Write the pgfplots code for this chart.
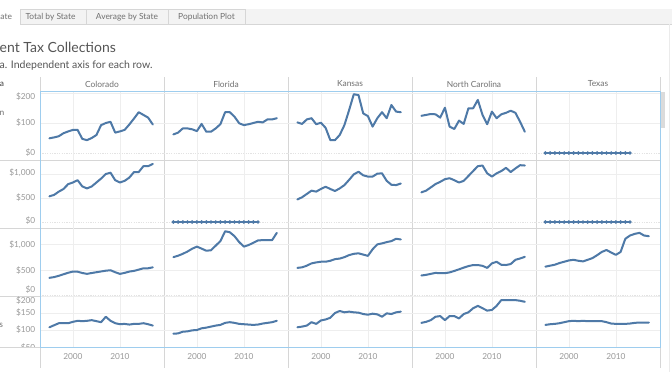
\documentclass[border=0pt]{standalone}
\usepackage{fontspec}
\setmainfont{Lato}
\usepackage{pgfplots}
\usepackage{pgfplotstable}
\pgfplotsset{compat=1.18}
\definecolor{tblue}{HTML}{4E79A7}
\definecolor{frameblue}{HTML}{9ECDEE}
\definecolor{sepgray}{HTML}{D6D6D6}
\definecolor{gridgray}{HTML}{EEEEEE}
\definecolor{ticktext}{HTML}{9A9A9A}
\definecolor{headtext}{HTML}{707070}
\definecolor{titletext}{HTML}{555555}
\definecolor{tabbg}{HTML}{F3F3F3}

\pgfplotstableread{
year CO FL KS NC
1995 49 62 102 124
1996 52 68 97 127
1997 56 82 112 130
1998 66 82 116 129
1999 72 79 96 118
2000 77 73 101 151
2001 77 97 84 88
2002 47 71 43 80
2003 43 71 43 108
2004 50 82 60 97
2005 60 96 93 149
2006 93 136 143 149
2007 100 136 196 177
2008 104 121 193 127
2009 68 99 132 96
2010 72 93 123 138
2011 77 96 88 116
2012 95 100 116 129
2013 115 104 136 134
2014 136 102 116 141
2015 127 112 160 134
2016 118 112 138 104
2017 95 116 136 71
}\rowone

\pgfplotstableread{
year CO KS NC
1995 535 470 618
1996 565 516 653
1997 633 584 721
1998 688 653 790
1999 790 633 837
2000 823 688 892
2001 871 735 912
2002 741 688 871
2003 700 646 823
2004 741 700 857
2005 823 769 959
2006 905 878 1061
2007 1000 993 1163
2008 1027 1047 1177
2009 871 973 1014
2010 823 946 946
2011 857 946 1014
2012 925 1007 1061
2013 1041 1014 1129
2014 1041 857 1041
2015 1163 776 1116
2016 1163 769 1184
2017 1210 802 1177
}\rowtwo

\pgfplotstableread{
year CO FL KS NC TX
1995 345 750 540 391 564
1996 360 778 551 404 583
1997 385 815 583 423 602
1998 415 860 628 442 635
1999 445 915 647 436 660
2000 468 956 660 436 686
2001 465 917 660 452 698
2002 440 875 679 480 679
2003 423 885 711 512 667
2004 440 975 722 545 698
2005 455 1064 750 575 731
2006 470 1256 790 595 788
2007 485 1237 815 596 852
2008 494 1160 825 580 890
2009 455 1044 800 540 840
2010 423 956 775 628 795
2011 442 987 904 660 852
2012 468 1030 1000 600 1109
2013 481 1077 1019 596 1173
2014 506 1083 1044 615 1205
2015 532 1083 1064 698 1225
2016 532 1083 1109 724 1173
2017 551 1225 1096 756 1160
}\rowthree

\pgfplotstableread{
year CO FL KS NC TX
1995 108 89 108 121 115
1996 114 90 110 124 117
1997 120 95 113 129 118
1998 120 96 123 139 120
1999 120 99 118 141 123
2000 124 100 128 129 126
2001 127 105 131 141 127
2002 126 107 136 141 126
2003 127 110 150 134 127
2004 129 113 156 147 126
2005 126 115 152 152 126
2006 123 121 154 164 126
2007 139 123 152 171 126
2008 127 121 151 164 123
2009 120 118 147 157 119
2010 117 117 145 159 118
2011 118 116 148 171 118
2012 116 115 146 188 118
2013 118 116 139 188 119
2014 118 119 149 188 121
2015 120 121 147 188 122
2016 117 123 152 186 122
2017 113 127 154 183 122
}\rowfour

\pgfplotstableread{
year v
1995 0
1996 0
1997 0
1998 0
1999 0
2000 0
2001 0
2002 0
2003 0
2004 0
2005 0
2006 0
2007 0
2008 0
2009 0
2010 0
2011 0
2012 0
2013 0
}\zeros

\pgfplotsset{
  pane/.style={
    scale only axis, width=124pt, anchor=north west,
    xmin=1993, xmax=2019.38,
    axis line style={draw=none},
    xtick={2000,2010}, xticklabels={},
    yticklabels={},
    major tick length=0pt,
    grid=major,
    major grid style={gridgray, line width=0.6pt},
    extra y ticks={0}, extra y tick labels={},
    extra y tick style={grid=major, major grid style={black!11, dash pattern=on 1.2pt off 1.2pt, line width=0.5pt}},
  },
  r1/.style={pane, height=69pt, ymin=-23.3, ymax=206.7, ytick={100,200}},
  r2/.style={pane, height=68pt, ymin=-125, ymax=1291.7, ytick={500,1000}},
  r3/.style={pane, height=68pt, ymin=-10, ymax=1320, ytick={500,1000}},
  r4/.style={pane, height=51pt, ymin=50, ymax=200, ytick={100,150,200}, extra y ticks={}},
  dl/.style={tblue, line width=2pt, no markers, line join=round, line cap=round},
  zl/.style={tblue, line width=1.5pt, mark=*, mark size=0.9pt, mark options={fill=tblue!85!black, draw=none}},
}

\begin{document}
\begin{tikzpicture}
\begin{scope}[x=1pt,y=1pt]
\useasboundingbox (0,0) rectangle (672,-372);
\fill[white] (0,0) rectangle (672,-372);

% tab bar
\fill[tabbg] (0,-9) rectangle (672,-24);
\fill[white] (0,-9) rectangle (20,-24.5);
\draw[sepgray, line width=0.6pt] (20,-24) -- (672,-24);
\draw[sepgray, line width=0.6pt] (20,-24) -- (20,-9) -- (245,-9) -- (245,-24);
\draw[sepgray, line width=0.6pt] (86,-9) -- (86,-24) (168,-9) -- (168,-24);
\begin{scope}[every node/.style={font=\fontsize{8.4}{9}\selectfont, text=headtext, inner sep=0}]
\node[anchor=base west] at (0.3,-19.5) {ate};
\node[anchor=base] at (50.5,-19.5) {Total by State};
\node[anchor=base] at (127,-19.5) {Average by State};
\node[anchor=base] at (206.5,-19.5) {Population Plot};
\end{scope}

% title
\node[anchor=base west, inner sep=0, text=titletext, font=\fontsize{14}{16}\selectfont] at (-0.5,-52.5) {ent Tax Collections};
\node[anchor=base west, inner sep=0, text=titletext, font=\fontsize{10.5}{12}\selectfont] at (-0.5,-68) {a. Independent axis for each row.};

% header
\begin{scope}[every node/.style={font=\fontsize{8.4}{9}\selectfont, text=headtext, inner sep=0}]
\node[anchor=west, text=black!75] at (-0.3,-84) {a};
\node at (102,-84) {Colorado};
\node at (226,-84) {Florida};
\node at (350,-84) {Kansas};
\node at (474,-84) {North Carolina};
\node at (598,-84) {Texas};
\node[anchor=west] at (-0.6,-113) {n};
\node[anchor=west] at (-0.8,-325) {s};
\end{scope}

% separators
\draw[sepgray, line width=0.6pt] (40,-77) -- (40,-368);
\foreach \xx in {164,288,412,536} { \draw[sepgray, line width=0.6pt] (\xx,-77) -- (\xx,-368); }
\draw[sepgray, line width=0.6pt] (660,-77) -- (660,-368);
\foreach \yy in {160,228,296} { \draw[sepgray, line width=0.6pt] (0,-\yy) -- (660,-\yy); }
\draw[sepgray, line width=0.6pt] (0,-347) -- (40,-347);
\draw[black!8, line width=0.6pt] (669,-24) -- (669,-372);
\fill[black!14] (661,-92) rectangle (665,-128);
\end{scope}

% row 1
\begin{axis}[r1, at={(40pt,-91pt)}] \addplot[dl] table[x=year,y=CO] {\rowone}; \end{axis}
\begin{axis}[r1, at={(164pt,-91pt)}] \addplot[dl] table[x=year,y=FL] {\rowone}; \end{axis}
\begin{axis}[r1, at={(288pt,-91pt)}] \addplot[dl] table[x=year,y=KS] {\rowone}; \end{axis}
\begin{axis}[r1, at={(412pt,-91pt)}] \addplot[dl] table[x=year,y=NC] {\rowone}; \end{axis}
\begin{axis}[r1, at={(536pt,-91pt)}] \addplot[zl] table[x=year,y=v] {\zeros}; \end{axis}
% row 2
\begin{axis}[r2, at={(40pt,-160pt)}] \addplot[dl] table[x=year,y=CO] {\rowtwo}; \end{axis}
\begin{axis}[r2, at={(164pt,-160pt)}] \addplot[zl] table[x=year,y=v] {\zeros}; \end{axis}
\begin{axis}[r2, at={(288pt,-160pt)}] \addplot[dl] table[x=year,y=KS] {\rowtwo}; \end{axis}
\begin{axis}[r2, at={(412pt,-160pt)}] \addplot[dl] table[x=year,y=NC] {\rowtwo}; \end{axis}
\begin{axis}[r2, at={(536pt,-160pt)}] \addplot[zl] table[x=year,y=v] {\zeros}; \end{axis}
% row 3
\begin{axis}[r3, at={(40pt,-228pt)}] \addplot[dl] table[x=year,y=CO] {\rowthree}; \end{axis}
\begin{axis}[r3, at={(164pt,-228pt)}] \addplot[dl] table[x=year,y=FL] {\rowthree}; \end{axis}
\begin{axis}[r3, at={(288pt,-228pt)}] \addplot[dl] table[x=year,y=KS] {\rowthree}; \end{axis}
\begin{axis}[r3, at={(412pt,-228pt)}] \addplot[dl] table[x=year,y=NC] {\rowthree}; \end{axis}
\begin{axis}[r3, at={(536pt,-228pt)}] \addplot[dl] table[x=year,y=TX] {\rowthree}; \end{axis}
% row 4
\begin{axis}[r4, at={(40pt,-296pt)}] \addplot[dl] table[x=year,y=CO] {\rowfour}; \end{axis}
\begin{axis}[r4, at={(164pt,-296pt)}] \addplot[dl] table[x=year,y=FL] {\rowfour}; \end{axis}
\begin{axis}[r4, at={(288pt,-296pt)}] \addplot[dl] table[x=year,y=KS] {\rowfour}; \end{axis}
\begin{axis}[r4, at={(412pt,-296pt)}] \addplot[dl] table[x=year,y=NC] {\rowfour}; \end{axis}
\begin{axis}[r4, at={(536pt,-296pt)}] \addplot[dl] table[x=year,y=TX] {\rowfour}; \end{axis}

\begin{scope}[x=1pt,y=1pt]
% blue frame
\draw[frameblue, line width=0.9pt] (40,-91) rectangle (660,-347);

% y tick labels
\begin{scope}[every node/.style={font=\fontsize{8.3}{9}\selectfont, text=ticktext, anchor=east, inner sep=0}]
\node at (35.5,-97) {\$200};
\node at (35.5,-123) {\$100};
\node at (35.5,-153) {\$0};
\node at (35.5,-173) {\$1,000};
\node at (35.5,-198) {\$500};
\node at (35.5,-221) {\$0};
\node at (35.5,-245) {\$1,000};
\node at (35.5,-271) {\$500};
\node at (35.5,-290) {\$0};
\node at (35.5,-301) {\$200};
\node at (35.5,-313) {\$150};
\node at (35.5,-330) {\$100};
\end{scope}
\begin{scope}
\clip (0,-296) rectangle (39,-346.5);
\node[font=\fontsize{8.3}{9}\selectfont, text=ticktext, anchor=east, inner sep=0] at (35.5,-348) {\$50};
\end{scope}

% x tick labels
\begin{scope}[every node/.style={font=\fontsize{8.3}{9}\selectfont, text=ticktext, inner sep=0}]
\foreach \L in {40,164,288,412,536} {
  \node at (\L+32.9,-357) {2000};
  \node at (\L+79.9,-357) {2010};
}
\end{scope}
\end{scope}
\end{tikzpicture}
\end{document}
